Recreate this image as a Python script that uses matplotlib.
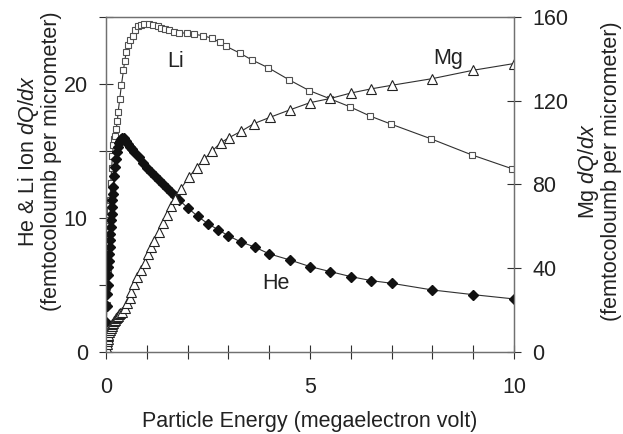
import numpy as np
import matplotlib
matplotlib.use("Agg")
import matplotlib.pyplot as plt
from matplotlib.ticker import MultipleLocator

plt.rcParams['font.family'] = ['Liberation Sans', 'DejaVu Sans']
plt.rcParams['mathtext.fontset'] = 'custom'
plt.rcParams['mathtext.it'] = 'Liberation Sans:italic'
plt.rcParams['mathtext.rm'] = 'Liberation Sans'

# ----- data ----- #
he_energy = [0.002, 0.005, 0.01, 0.02, 0.03, 0.04, 0.05, 0.06, 0.07, 0.08, 0.09,
             0.10, 0.11, 0.12, 0.13, 0.14, 0.15, 0.16, 0.17, 0.18, 0.20, 0.225,
             0.25, 0.275, 0.30, 0.325, 0.35, 0.375, 0.40, 0.45, 0.50, 0.55, 0.60,
             0.65, 0.70, 0.80, 0.90, 1.0, 1.1, 1.2, 1.3, 1.4, 1.5, 1.6, 1.7, 1.8,
             2.0, 2.25, 2.5, 2.75, 3.0, 3.3, 3.65, 4.0, 4.5, 5.0, 5.5, 6.0, 6.5,
             7.0, 8.0, 9.0, 10.0]
he_dqdx = [0.5, 1.3, 2.2, 3.4, 4.3, 5.0, 5.7, 6.3, 6.8, 7.3, 7.8,
           8.3, 8.8, 9.3, 9.8, 10.3, 10.8, 11.3, 11.8, 12.3, 13.1, 13.8,
           14.4, 14.9, 15.3, 15.55, 15.75, 15.85, 15.95, 15.95, 15.75, 15.5, 15.3,
           15.1, 14.9, 14.5, 14.1, 13.7, 13.4, 13.1, 12.8, 12.5, 12.2, 11.9, 11.6, 11.3,
           10.75, 10.1, 9.55, 9.1, 8.65, 8.2, 7.8, 7.3, 6.85, 6.35, 5.97, 5.6, 5.3,
           5.1, 4.6, 4.25, 3.93]

li_energy = [0.005, 0.01, 0.02, 0.03, 0.04, 0.05, 0.06, 0.07, 0.08, 0.09, 0.10,
             0.12, 0.14, 0.16, 0.18, 0.20, 0.22, 0.25, 0.28, 0.30, 0.34, 0.38,
             0.43, 0.46, 0.50, 0.55, 0.60, 0.66, 0.71, 0.78, 0.85, 0.93, 1.05,
             1.16, 1.27, 1.36, 1.46, 1.55, 1.67, 1.79, 1.98, 2.17, 2.38, 2.61,
             2.79, 2.95, 3.28, 3.57, 3.98, 4.49, 4.98, 5.48, 5.97, 6.47, 6.98,
             7.96, 8.96, 9.96]
li_dqdx = [1.0, 2.0, 3.5, 4.8, 6.0, 7.0, 8.0, 8.9, 9.8, 10.6, 11.3,
           12.6, 13.7, 14.6, 15.4, 15.9, 16.1, 16.6, 17.2, 17.9, 18.9, 19.9,
           21.0, 21.7, 22.4, 22.9, 23.3, 23.6, 24.0, 24.3, 24.4, 24.45, 24.45,
           24.4, 24.3, 24.2, 24.1, 24.0, 23.9, 23.8, 23.8, 23.7, 23.6, 23.4,
           23.1, 22.8, 22.3, 21.8, 21.2, 20.3, 19.5, 18.9, 18.3, 17.6, 17.0,
           15.9, 14.7, 13.65]

mg_energy = [0.005, 0.01, 0.02, 0.03, 0.04, 0.05, 0.06, 0.08, 0.10, 0.12, 0.14,
             0.16, 0.18, 0.20, 0.225, 0.25, 0.275, 0.30, 0.325, 0.35, 0.39, 0.46,
             0.52, 0.58, 0.62, 0.70, 0.77, 0.85, 0.95, 1.03, 1.11, 1.19, 1.30,
             1.40, 1.50, 1.60, 1.70, 1.83, 2.04, 2.22, 2.41, 2.61, 2.81, 3.01,
             3.31, 3.63, 4.02, 4.5, 5.0, 5.5, 6.0, 6.5, 7.0, 8.0, 9.0, 10.0]
mg_dqdx = [1.0, 2.0, 3.5, 5.0, 6.2, 7.2, 8.0, 9.2, 10.3, 11.3, 12.2,
           13.0, 13.8, 14.5, 15.3, 16.0, 16.6, 17.2, 17.8, 18.3, 19.0, 21.0,
           23.2, 25.8, 28.5, 32.2, 35.7, 39.0, 42.5, 46.6, 49.9, 53.0, 57.0,
           61.5, 65.5, 69.5, 73.0, 77.8, 83.5, 88.0, 92.0, 96.0, 99.8, 102.2,
           105.3, 109.0, 112.0, 115.5, 119.0, 121.0, 123.6, 125.6, 127.3, 130.5,
           134.5, 137.7]

# ----- plot ----- #
fig = plt.figure(figsize=(6.23, 4.34), dpi=100)
ax = fig.add_axes([0.170, 0.190, 0.655, 0.771])
ax2 = ax.twinx()

line_col = '#303030'
ax.plot(li_energy, li_dqdx, color=line_col, lw=0.8, marker='s', ms=4.5,
        mfc='white', mec='#505050', mew=0.8, zorder=2)
ax.plot(he_energy, he_dqdx, color=line_col, lw=0.8, marker='D', ms=5.5,
        mfc='#111111', mec='#111111', zorder=3)
ax2.plot(mg_energy, mg_dqdx, color=line_col, lw=0.8, marker='^', ms=6.5,
         mfc='white', mec='#222222', mew=0.8)

ax.set_xlim(0, 10)
ax.set_ylim(0, 25)
ax2.set_ylim(0, 160)

ax.xaxis.set_major_locator(MultipleLocator(5))
ax.xaxis.set_minor_locator(MultipleLocator(1))
ax.yaxis.set_major_locator(MultipleLocator(10))
ax.yaxis.set_minor_locator(MultipleLocator(5))
ax2.yaxis.set_major_locator(MultipleLocator(40))

for a in (ax, ax2):
    for s in a.spines.values():
        s.set_color('#707070')
        s.set_linewidth(0.9)
    a.tick_params(which='both', direction='inout', length=10, width=0.8,
                  color='#303030', labelsize=15.5, labelcolor='#222222')
ax.tick_params(axis='x', which='both', pad=13)
ax.tick_params(axis='y', which='both', pad=8)
ax2.tick_params(axis='y', which='both', pad=8)

ax.set_xlabel("Particle Energy (megaelectron volt)", fontsize=15.5, color='#222222',
              labelpad=10)
ax.set_ylabel("He & Li Ion $\\mathit{dQ/dx}$\n(femtocoloumb per micrometer)",
              fontsize=15.5, color='#222222', linespacing=1.0)
ax.yaxis.set_label_coords(-0.108, 0.57)
ax2.set_ylabel("Mg $\\mathit{dQ/dx}$\n(femtocoloumb per micrometer)",
               fontsize=15.5, color='#222222', linespacing=1.0)
ax2.yaxis.set_label_coords(1.153, 0.54)

ax.text(1.72, 21.7, "Li", fontsize=15.5, ha='center', va='center', color='#222222')
ax.text(8.4, 21.9, "Mg", fontsize=15.5, ha='center', va='center', color='#222222')
ax.text(4.17, 5.1, "He", fontsize=15.5, ha='center', va='center', color='#222222')

fig.savefig("out.png", dpi=100)
